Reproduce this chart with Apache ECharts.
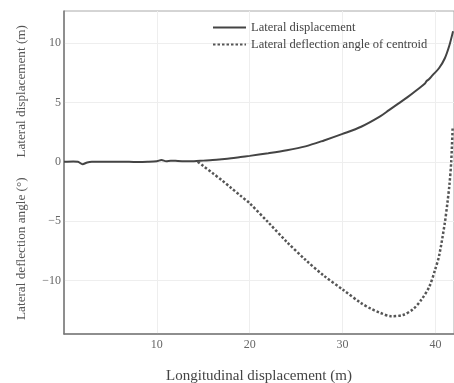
<!DOCTYPE html>
<html>
<head>
<meta charset="utf-8">
<script src="https://cdn.jsdelivr.net/npm/echarts@6/dist/echarts.min.js"></script>
<style>
html,body{margin:0;padding:0;background:#fff;}
#chart{width:454px;height:383px;}
</style>
</head>
<body>
<div id="chart"></div>
<script>
// Lateral displacement (m) vs longitudinal displacement (m)
const dispX = [0, 1, 1.5, 2, 2.5, 3, 4, 5, 6, 7, 8, 9, 10, 10.5, 11, 11.5, 12, 13, 14, 15, 16, 17, 18, 19, 20, 22, 24, 26, 28, 30, 32, 34, 35, 36, 37, 38, 38.9, 39.05, 39.3, 39.7, 40.4, 41, 41.5, 41.9];
const dispY = [0, 0.02, 0, -0.2, -0.05, 0, 0, 0, 0, 0, -0.02, 0, 0.05, 0.15, 0.05, 0.1, 0.08, 0.05, 0.05, 0.1, 0.15, 0.22, 0.3, 0.4, 0.5, 0.72, 0.97, 1.3, 1.8, 2.35, 2.95, 3.8, 4.35, 4.9, 5.45, 6.05, 6.62, 6.8, 6.95, 7.3, 7.9, 8.7, 9.8, 11.0];
// Lateral deflection angle of centroid (°)
const angleX = [14.4, 15, 16, 17, 18, 19, 20, 22, 24, 26, 28, 30, 32, 33, 34, 35.2, 36.5, 37.6, 38.5, 39.35, 40, 40.4, 41, 41.3, 41.5, 41.7, 41.85];
const angleY = [0, -0.35, -0.95, -1.55, -2.2, -2.85, -3.5, -5.1, -6.75, -8.25, -9.6, -10.75, -11.9, -12.35, -12.7, -13.0, -12.9, -12.4, -11.6, -10.5, -9.0, -7.9, -5.2, -3.4, -2.0, 0, 2.8];
const xTicks = [10, 20, 30, 40];
const yTicks = [-10, -5, 0, 5, 10];
const seriesNames = ['Lateral displacement', 'Lateral deflection angle of centroid'];

const FONT = '"Liberation Serif", "DejaVu Serif", serif';
const chart = echarts.init(document.getElementById('chart'), null, {renderer: 'canvas'});
chart.setOption({
  animation: false,
  backgroundColor: '#fff',
  grid: {left: 64, right: 0, top: 11, bottom: 49, outerBoundsMode: 'none', containLabel: false,
    show: true, borderColor: '#aaa', borderWidth: 1},
  legend: {
    orient: 'vertical', left: 207, top: 16, itemWidth: 33, itemHeight: 8, itemGap: 4,
    itemStyle: {opacity: 0},
    textStyle: {fontFamily: FONT, fontSize: 12.5, color: '#444'},
    data: seriesNames
  },
  xAxis: {
    type: 'value', min: 0, max: 42,
    name: 'Longitudinal displacement (m)', nameLocation: 'middle', nameGap: 35,
    nameTextStyle: {fontFamily: FONT, fontSize: 15, color: '#444'},
    axisLine: {show: true, onZero: false, lineStyle: {color: '#777', width: 1.5}},
    axisTick: {show: false, customValues: xTicks},
    axisLabel: {customValues: xTicks, fontFamily: FONT, fontSize: 12, color: '#666', margin: 5},
    splitLine: {show: true, lineStyle: {color: '#eee', width: 1}}
  },
  yAxis: {
    type: 'value', min: -14.5, max: 12.7,
    name: 'Lateral deflection angle (°)      Lateral displacement (m)', nameLocation: 'middle', nameGap: 36,
    nameTextStyle: {fontFamily: FONT, fontSize: 13.2, color: '#555'},
    axisLine: {show: true, onZero: false, lineStyle: {color: '#777', width: 1.5}},
    axisTick: {show: false, customValues: yTicks},
    axisLabel: {customValues: yTicks, fontFamily: FONT, fontSize: 12, color: '#666', margin: 3,
      formatter: v => (v < 0 ? '\u2212' + Math.abs(v) : String(v))},
    splitLine: {show: true, lineStyle: {color: '#eee', width: 1}}
  },
  series: [
    {
      name: seriesNames[0], type: 'line', smooth: 0.3, showSymbol: false, symbol: 'none',
      data: dispX.map((x, i) => [x, dispY[i]]),
      lineStyle: {color: '#444', width: 2}, itemStyle: {color: '#444'}
    },
    {
      name: seriesNames[1], type: 'line', smooth: 0.3, showSymbol: false, symbol: 'none',
      data: angleX.map((x, i) => [x, angleY[i]]),
      lineStyle: {color: '#555', width: 2.5, type: [2.5, 2], cap: 'butt'}, itemStyle: {color: '#555'}
    }
  ]
});
</script>
</body>
</html>
